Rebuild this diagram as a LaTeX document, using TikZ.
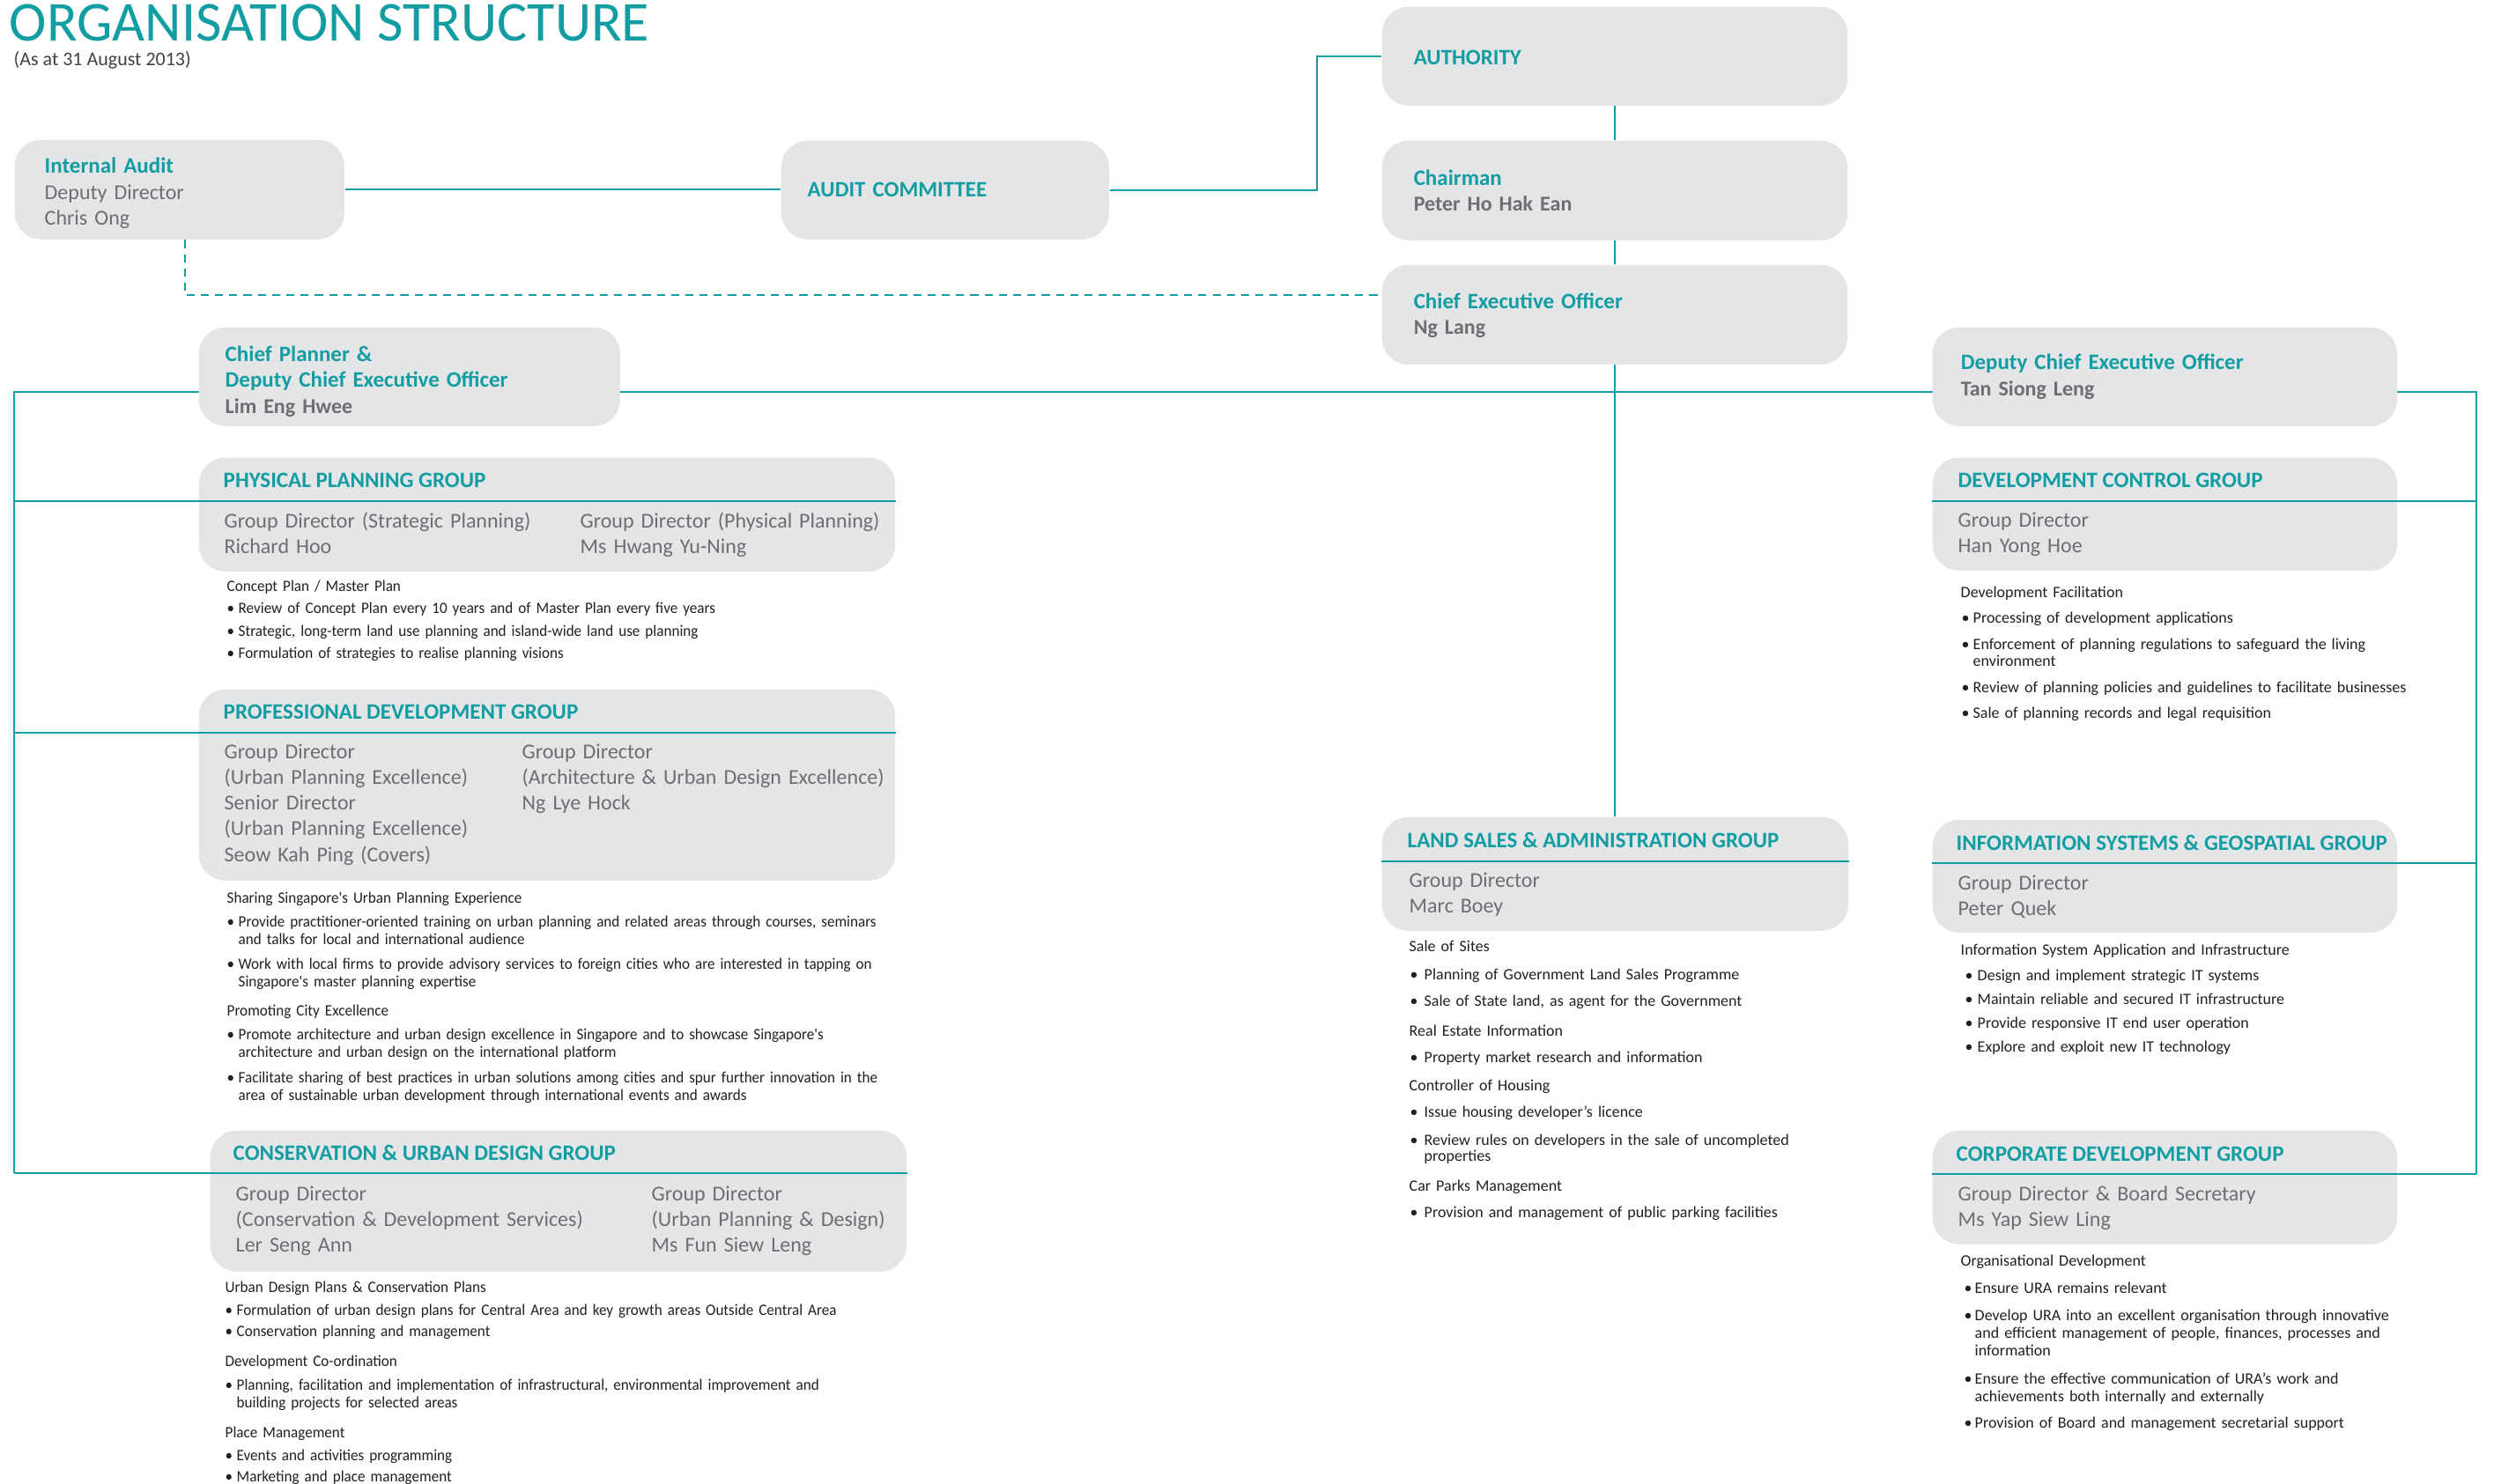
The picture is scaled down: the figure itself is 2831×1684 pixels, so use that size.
\documentclass[tikz,border=0pt]{standalone}
\usepackage{fontspec}
\setmainfont{Carlito}
\newfontfamily\narrowfont[FakeStretch=0.95]{Carlito}
\usetikzlibrary{backgrounds}

\definecolor{urateal}{RGB}{18,157,163}
\definecolor{uragray}{RGB}{109,110,113}
\definecolor{urabox}{RGB}{228,229,230}
\definecolor{uratext}{RGB}{35,31,32}
\definecolor{urasub}{RGB}{65,64,66}

% 1px of the sheet
\newlength\px \setlength\px{0.01cm}
\newlength\bulpre \newlength\bulw
\newcommand\ftitle{\fontsize{64\px}{70\px}\selectfont}
\newcommand\fsub{\fontsize{22\px}{26\px}\selectfont}
\newcommand\fhead{\fontsize{25\px}{29\px}\selectfont\bfseries}
\newcommand\fname{\fontsize{24\px}{29.3\px}\selectfont}
\newcommand\fbody{\fontsize{18\px}{20\px}\selectfont}
\newcommand\fnarrow{\narrowfont\fontsize{18\px}{20\px}\selectfont}
\newcommand\bul{\hspace*{\bulpre}\makebox[\bulw][l]{\textbullet}}
\newcommand\cnt{\hspace*{\bulpre}\hspace*{\bulw}}

\tikzset{
  link/.style={draw=urateal, line width=0.6pt},
  dashlink/.style={link, dash pattern=on 2.6pt off 2pt},
  exec/.style={fill=urabox, rounded corners=0.3cm, anchor=north west, inner ysep=0pt,
    align=left, font=\fname, text=uragray},
  grp/.style={fill=urabox, rounded corners=0.3cm, anchor=north west, inner sep=0pt},
  ghead/.style={anchor=base west, inner sep=0pt, font=\fhead, text=urateal},
  gname/.style={anchor=base west, inner sep=0pt, align=left, text width=6cm,
    font=\fname, text=uragray},
  blk/.style 2 args={anchor=base west, inner sep=0pt, align=left, text width=9cm,
    font=\fbody, text=uratext,
    execute at begin node={\setlength\bulpre{#1\px}\setlength\bulw{#2\px}}},
}

\begin{document}
\begin{tikzpicture}[x=0.01cm, y=-0.01cm]
    \useasboundingbox (0,0) rectangle (2831,1684);

    % title
    \node[anchor=base west, inner sep=0pt, font=\ftitle, text=urateal] (title) at (10,46) {ORGANISATION STRUCTURE};
    \node[anchor=base west, inner sep=0pt, font=\fsub, text=urasub] (date) at (15,74) {(As at 31 August 2013)};

    % top management
    \node[exec, inner xsep=0.34cm, text width=3.06cm, minimum height=1.13cm] (ia) at (16,158)
        {{\fhead\color{urateal}\rule{0pt}{26\px}Internal Audit}\\Deputy Director\\Chris Ong};
    \node[exec, inner xsep=0.30cm, text width=3.12cm, minimum height=1.12cm] (ac) at (886,159)
        {{\fhead\color{urateal}AUDIT COMMITTEE}};
    \node[exec, inner xsep=0.36cm, text width=4.56cm, minimum height=1.12cm] (auth) at (1568,7)
        {{\fhead\color{urateal}\rule{0pt}{19\px}AUTHORITY}};
    \node[exec, inner xsep=0.36cm, text width=4.56cm, minimum height=1.13cm] (chair) at (1568,159)
        {{\fhead\color{urateal}Chairman}\\\textbf{Peter Ho Hak Ean}};
    \node[exec, inner xsep=0.36cm, text width=4.56cm, minimum height=1.13cm] (ceo) at (1568,300)
        {{\fhead\color{urateal}\rule{0pt}{20\px}Chief Executive Officer}\\\textbf{Ng Lang}};
    \node[exec, inner xsep=0.30cm, text width=4.18cm, minimum height=1.12cm] (cp) at (225,371)
        {{\fhead\color{urateal}\rule{0pt}{28\px}Chief Planner \&\\Deputy Chief Executive Officer}\\\textbf{Lim Eng Hwee}};
    \node[exec, inner xsep=0.32cm, text width=4.63cm, minimum height=1.12cm] (dceo) at (2193,371)
        {{\fhead\color{urateal}Deputy Chief Executive Officer}\\\textbf{Tan Siong Leng}};

    % group boxes
    \node[grp, minimum width=7.90cm, minimum height=1.29cm] (ppg) at (225,519) {};
    \node[grp, minimum width=7.90cm, minimum height=2.17cm] (pdg) at (225,782) {};
    \node[grp, minimum width=7.90cm, minimum height=1.60cm] (cudg) at (238,1283) {};
    \node[grp, minimum width=5.29cm, minimum height=1.29cm] (lsag) at (1568,927) {};
    \node[grp, minimum width=5.27cm, minimum height=1.28cm] (dcg) at (2193,519) {};
    \node[grp, minimum width=5.27cm, minimum height=1.28cm] (isgg) at (2193,930) {};
    \node[grp, minimum width=5.27cm, minimum height=1.29cm] (cdg) at (2193,1283) {};

    % spine ends
    \coordinate (ltop) at (16,445);
    \coordinate (rtop) at (2811,445);
    \coordinate (lbot) at (16,1332);
    \coordinate (rbot) at (2811,1333);
    \coordinate (acbend) at (1495,140);

    \begin{scope}[on background layer]
        \draw[link] (ia.east) -- (ia.east -| ac.west);
        \draw[link] (ac.east) -| (acbend) |- (auth.west);
        \draw[link] (auth) -- (chair);
        \draw[link] (chair) -- (ceo);
        \draw[link] (ceo.south) -- (ceo.south |- lsag.north);
        \draw[dashlink] ([xshift=0.06cm]ia.south) |- ([yshift=0.22cm]ceo.west);
        \draw[link] (lbot) -- (ltop) -- (rtop) -- (rbot);
    \end{scope}

    % dividers under the group titles
    \draw[link] (ltop |- 0,569) -- (ppg.east |- 0,569);
    \draw[link] (ltop |- 0,832) -- (pdg.east |- 0,832);
    \draw[link] (lbot) -- (cudg.east |- lbot);
    \draw[link] (lsag.west |- 0,978) -- (lsag.east |- 0,978);
    \draw[link] (dcg.west |- 0,569) -- (rtop |- 0,569);
    \draw[link] (isgg.west |- 0,980) -- (rtop |- 0,980);
    \draw[link] (cdg.west |- rbot) -- (rbot);

    % group titles and heads
    \node[ghead] (ppgh) at (253,553) {PHYSICAL PLANNING GROUP};
    \node[gname] (ppgl) at (254,599) {Group Director (Strategic Planning)\\Richard Hoo};
    \node[gname] (ppgr) at (658,599) {Group Director (Physical Planning)\\Ms Hwang Yu-Ning};

    \node[ghead] (pdgh) at (253,816) {PROFESSIONAL DEVELOPMENT GROUP};
    \node[gname] (pdgl) at (254,861) {Group Director\\(Urban Planning Excellence)\\Senior Director\\(Urban Planning Excellence)\\Seow Kah Ping (Covers)};
    \node[gname] (pdgr) at (592,861) {Group Director\\(Architecture \& Urban Design Excellence)\\Ng Lye Hock};

    \node[ghead] (cudgh) at (264,1317) {CONSERVATION \& URBAN DESIGN GROUP};
    \node[gname] (cudgl) at (267,1363) {Group Director\\(Conservation \& Development Services)\\Ler Seng Ann};
    \node[gname] (cudgr) at (739,1363) {Group Director\\(Urban Planning \& Design)\\Ms Fun Siew Leng};

    \node[ghead] (lsagh) at (1597,962) {LAND SALES \& ADMINISTRATION GROUP};
    \node[gname] (lsagn) at (1599,1007) {Group Director\\Marc Boey};

    \node[ghead] (dcgh) at (2222,553) {DEVELOPMENT CONTROL GROUP};
    \node[gname] (dcgn) at (2222,598) {Group Director\\Han Yong Hoe};

    \node[ghead] (isggh) at (2220,965) {INFORMATION SYSTEMS \& GEOSPATIAL GROUP};
    \node[gname] (isggn) at (2222,1010) {Group Director\\Peter Quek};

    \node[ghead] (cdgh) at (2220,1318) {CORPORATE DEVELOPMENT GROUP};
    \node[gname] (cdgn) at (2222,1363) {Group Director \& Board Secretary\\Ms Yap Siew Ling};

    % functions
    \node[blk={0}{13}, font=\fnarrow] (ppgtxt) at (257,671) {Concept Plan / Master Plan\\[5.5\px]
        \bul Review of Concept Plan every 10 years and of Master Plan every five years\\[5.5\px]
        \bul Strategic, long-term land use planning and island-wide land use planning\\[5.5\px]
        \bul Formulation of strategies to realise planning visions};

    \node[blk={0}{13}, font=\fnarrow] (pdgtxt) at (257,1025) {Sharing Singapore's Urban Planning Experience\\[7\px]
        \bul Provide practitioner-oriented training on urban planning and related areas through courses, seminars\\
        \cnt and talks for local and international audience\\[8\px]
        \bul Work with local firms to provide advisory services to foreign cities who are interested in tapping on\\
        \cnt Singapore's master planning expertise\\[13\px]
        Promoting City Excellence\\[7\px]
        \bul Promote architecture and urban design excellence in Singapore and to showcase Singapore's\\
        \cnt architecture and urban design on the international platform\\[9\px]
        \bul Facilitate sharing of best practices in urban solutions among cities and spur further innovation in the\\
        \cnt area of sustainable urban development through international events and awards};

    \node[blk={0}{13}, font=\fnarrow] (cudgtxt) at (255,1467) {Urban Design Plans \& Conservation Plans\\[6\px]
        \bul Formulation of urban design plans for Central Area and key growth areas Outside Central Area\\[4\px]
        \bul Conservation planning and management\\[14\px]
        Development Co-ordination\\[7\px]
        \bul Planning, facilitation and implementation of infrastructural, environmental improvement and\\
        \cnt building projects for selected areas\\[14\px]
        Place Management\\[6\px]
        \bul Events and activities programming\\[4\px]
        \bul Marketing and place management};

    \node[blk={1}{16}] (lsagtxt) at (1599,1080) {Sale of Sites\\[12\px]
        \bul Planning of Government Land Sales Programme\\[10\px]
        \bul Sale of State land, as agent for the Government\\[14\px]
        Real Estate Information\\[10\px]
        \bul Property market research and information\\[12\px]
        Controller of Housing\\[10\px]
        \bul Issue housing developer's licence\\[12\px]
        \bul Review rules on developers in the sale of uncompleted\\[-2\px]
        \cnt properties\\[14\px]
        Car Parks Management\\[10\px]
        \bul Provision and management of public parking facilities};

    \node[blk={1}{13}] (dcgtxt) at (2225,678) {Development Facilitation\\[9\px]
        \bul Processing of development applications\\[10\px]
        \bul Enforcement of planning regulations to safeguard the living\\[-1\px]
        \cnt environment\\[10\px]
        \bul Review of planning policies and guidelines to facilitate businesses\\[9\px]
        \bul Sale of planning records and legal requisition};

    \node[blk={5}{14}] (isggtxt) at (2225,1084) {Information System Application and Infrastructure\\[9\px]
        \bul Design and implement strategic IT systems\\[7\px]
        \bul Maintain reliable and secured IT infrastructure\\[7\px]
        \bul Provide responsive IT end user operation\\[7\px]
        \bul Explore and exploit new IT technology};

    \node[blk={4}{12}] (cdgtxt) at (2225,1437) {Organisational Development\\[11\px]
        \bul Ensure URA remains relevant\\[11\px]
        \bul Develop URA into an excellent organisation through innovative\\
        \cnt and efficient management of people, finances, processes and\\
        \cnt information\\[12\px]
        \bul Ensure the effective communication of URA's work and\\
        \cnt achievements both internally and externally\\[10\px]
        \bul Provision of Board and management secretarial support};

\end{tikzpicture}
\end{document}
